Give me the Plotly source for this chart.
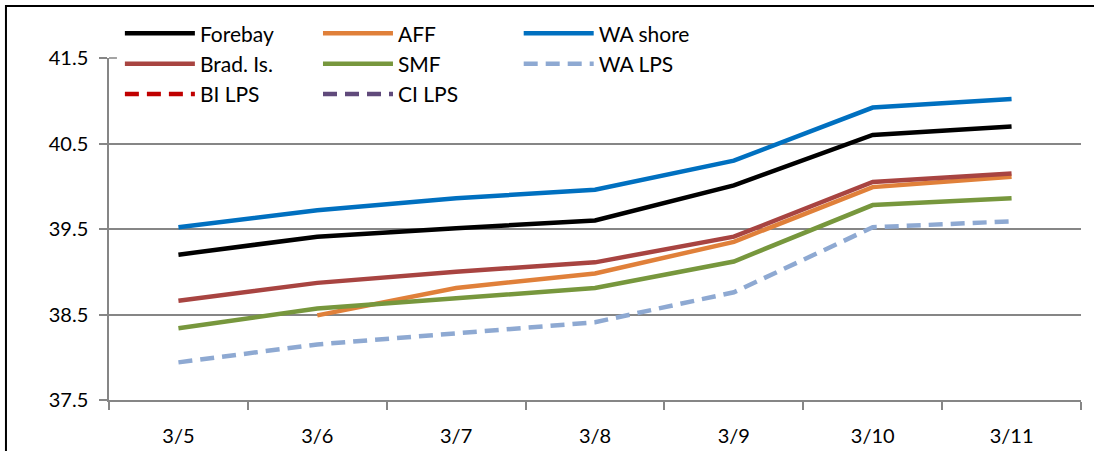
import plotly.graph_objects as go

categories = ["3/5", "3/6", "3/7", "3/8", "3/9", "3/10", "3/11"]
forebay = [39.20, 39.41, 39.51, 39.60, 40.01, 40.60, 40.70]
aff = [None, 38.49, 38.81, 38.98, 39.35, 39.99, 40.11]
wa_shore = [39.52, 39.72, 39.86, 39.96, 40.30, 40.92, 41.02]
brad_is = [38.66, 38.87, 39.00, 39.11, 39.41, 40.05, 40.15]
smf = [38.34, 38.57, 38.69, 38.81, 39.12, 39.78, 39.86]
wa_lps = [37.94, 38.15, 38.28, 38.41, 38.76, 39.52, 39.59]
bi_lps = [None, None, None, None, None, None, None]
ci_lps = [None, None, None, None, None, None, None]

FONT = "Lato"
series = [
    ("Forebay", forebay, "#000000", "solid", "legend"),
    ("AFF", aff, "#E0803A", "solid", "legend2"),
    ("WA shore", wa_shore, "#0070C0", "solid", "legend3"),
    ("Brad. Is.", brad_is, "#A84441", "solid", "legend"),
    ("SMF", smf, "#77973D", "solid", "legend2"),
    ("WA LPS", wa_lps, "#8EA9D2", "14px,8px", "legend3"),
    ("BI LPS", bi_lps, "#C00000", "14px,8px", "legend"),
    ("CI LPS", ci_lps, "#604A7B", "14px,8px", "legend2"),
]

fig = go.Figure()
for name, vals, color, dash, lg in series:
    fig.add_trace(go.Scatter(
        x=categories, y=vals, name=name, mode="lines",
        line=dict(color=color, width=4.5, dash=dash),
        legend=lg, connectgaps=False,
    ))

legend_common = dict(
    orientation="v", yanchor="top", xanchor="left",
    bgcolor="rgba(255,255,255,0)", borderwidth=0,
    font=dict(family=FONT, size=21, color="black"),
    itemwidth=70, traceorder="normal",
)

fig.update_layout(
    width=1094, height=451,
    margin=dict(l=109, r=13, t=58, b=51, autoexpand=False),
    paper_bgcolor="white", plot_bgcolor="white",
    font=dict(family=FONT, size=20, color="black"),
    showlegend=True,
    legend=dict(x=0.0112, y=1.131, **legend_common),
    legend2=dict(x=0.215, y=1.131, **legend_common),
    legend3=dict(x=0.4215, y=1.131, **legend_common),
    xaxis=dict(
        type="category", range=[-0.5, 6.5],
        showline=True, linecolor="#868686", linewidth=1.5,
        ticks="outside", tickson="boundaries", ticklen=8, tickcolor="#868686",
        tickwidth=1.5, showgrid=False, zeroline=False,
        tickfont=dict(family=FONT, size=20, color="black"),
        ticklabelstandoff=17,
    ),
    yaxis=dict(
        range=[37.5, 41.5], tick0=37.5, dtick=1, tickformat=".1f",
        showline=True, linecolor="#868686", linewidth=1.5,
        ticks="outside", ticklen=8, tickcolor="#868686", tickwidth=1.5,
        showgrid=True, gridcolor="#868686", gridwidth=1.5, zeroline=False,
        tickfont=dict(family=FONT, size=20, color="black"),
        ticklabelstandoff=7,
    ),
    shapes=[
        dict(type="line", xref="paper", yref="paper", x0=0, x1=0.0082,
             y0=1.0, y1=1.0, line=dict(color="#868686", width=1.5),
             layer="between"),
        dict(type="rect", xref="paper", yref="paper", x0=0.0082, x1=0.6235,
             y0=0.985, y1=1.015, fillcolor="white", line=dict(width=0),
             layer="between"),
        dict(type="rect", xref="paper", yref="paper", x0=-0.106, x1=1.3,
             y0=-0.6, y1=1.152, fillcolor="rgba(0,0,0,0)",
             line=dict(color="black", width=2), layer="above"),
    ],
)

fig.write_html("out.html", config={"displayModeBar": False},
               post_script="document.body.style.margin='0px';")
